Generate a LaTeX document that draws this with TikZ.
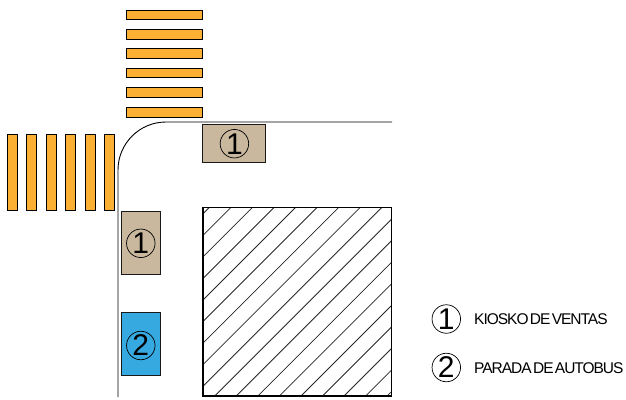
\documentclass[tikz,border=0pt]{standalone}
\usepackage{fontspec}
\setmainfont{Liberation Sans}
\newfontfamily\tightfont[LetterSpace=-6.5,WordSpace=0.4]{Liberation Sans}
\definecolor{stripe}{HTML}{FBB034}
\definecolor{kiosk}{HTML}{C9B89E}
\definecolor{busstop}{HTML}{36A9E1}
\tikzset{
  x=1pt,y=-1pt,
  stripebox/.style={draw=black,line width=1pt,fill=stripe},
  lot/.style={draw=black,line width=1.1pt},
  road/.style={draw=black,line width=0.9pt},
  hatchline/.style={draw=black!85,line width=0.8pt},
  standbox/.style={draw=black!90,line width=1pt,anchor=center,inner sep=0pt,minimum size=0pt},
  badge/.style={circle,draw=black,line width=0.7pt,minimum size=28.5pt,inner sep=0pt,font=\fontsize{30}{30}\selectfont},
  legendtext/.style={anchor=west,inner sep=0pt,font=\tightfont\fontsize{15.5}{17}\selectfont}
}
\begin{document}
\begin{tikzpicture}
\useasboundingbox (0,0) rectangle (626,399);
% horizontal crossing stripes
\foreach \t/\b in {10/19.5,29.5/39,48.5/58,68/77.7,87.5/97,107/117}
  \draw[stripebox] (126.5,\t) rectangle (202.5,\b);
% vertical crossing stripes
\foreach \l in {7,26.5,46,65.5,85,104.5}
  \draw[stripebox] (\l,134) rectangle ({\l+10},210);
% kerb
\draw[road] (392,122) -- (166,122) .. controls (139.5,122) and (118,143.5) .. (118,170) -- (118,397);
% block
\begin{scope}
\clip (203,207.5) rectangle (391.5,396);
\foreach \k in {0,...,17}
  \draw[hatchline] ({416.8+\k*21.55-100},100) -- ({416.8+\k*21.55-400},400);
\end{scope}
\draw[lot] (203,207.5) rectangle (391.5,396);
% stands
\node[standbox,fill=kiosk,minimum width=63.5pt,minimum height=38.5pt] (k1) at (234.2,143.7) {};
\node[standbox,fill=kiosk,minimum width=38.5pt,minimum height=63.5pt] (k2) at (140.8,242.8) {};
\node[standbox,fill=busstop,minimum width=38.5pt,minimum height=63.5pt] (b1) at (140.8,343.8) {};
\node[badge] (bk1) at (234.4,143.7) {1};
\node[badge] (bk2) at (140.8,243.3) {1};
\node[badge] (bb1) at (140.8,345.5) {2};
% legend
\node[badge] (l1) at (446.3,319) {1};
\node[badge] (l2) at (446.3,367.5) {2};
\node[legendtext] (t1) at (474,319) {KIOSKO DE VENTAS};
\node[legendtext] (t2) at (474,368.5) {PARADA DE AUTOBUS};
\end{tikzpicture}
\end{document}
